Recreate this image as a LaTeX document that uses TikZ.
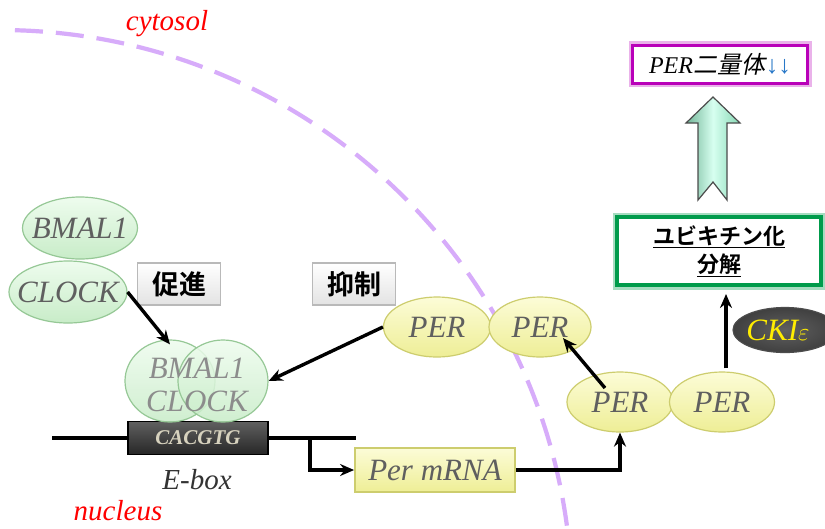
\documentclass[tikz,border=0pt]{standalone}
\usepackage{fontspec}
\setmainfont{Liberation Serif}
\newfontfamily\cjk{Noto Sans CJK JP}[BoldFont=* Bold]
\newfontfamily\cjkslant{Noto Sans CJK JP}[FakeSlant=0.2]
\usetikzlibrary{arrows.meta,shapes.geometric,calc}

\definecolor{membrane}{RGB}{215,172,250}
\definecolor{grnrim}{RGB}{150,200,150}
\definecolor{grnfill}{RGB}{200,236,200}
\definecolor{grnlight}{RGB}{238,252,238}
\definecolor{yelrim}{RGB}{205,205,110}
\definecolor{yelfill}{RGB}{238,238,150}
\definecolor{yellight}{RGB}{252,252,215}
\definecolor{labelgray}{RGB}{95,95,95}
\definecolor{mint}{RGB}{150,240,200}
\definecolor{mintlight}{RGB}{215,255,240}
\definecolor{boxgreen}{RGB}{0,155,75}
\definecolor{boxmag}{RGB}{185,0,185}
\definecolor{arrowblue}{RGB}{40,120,200}

\tikzset{
  protein/.style={ellipse, inner sep=0pt, line width=1.2pt},
  greenprot/.style={protein, draw=grnrim, top color=grnlight, bottom color=grnfill},
  yellowprot/.style={protein, draw=yelrim, top color=yellight, bottom color=yelfill},
  protlabel/.style={font=\fontsize{31}{31}\selectfont\itshape, text=labelgray},
  actbox/.style={rectangle, draw=gray!55, line width=1.5pt, top color=white, bottom color=gray!22,
                 minimum width=83pt, minimum height=42pt, font=\fontsize{27}{27}\selectfont\cjk\bfseries},
  arr/.style={-{Stealth[length=14pt,width=12pt]}, line width=3.4pt},
  redlabel/.style={font=\fontsize{29}{29}\selectfont\itshape, text=red},
}

\begin{document}
\begin{tikzpicture}[x=1pt,y=-1pt]
\useasboundingbox (0,0) rectangle (825,528);
\clip (0,0) rectangle (825,528);
\fill[white] (0,0) rectangle (825,528);

% nuclear envelope
\draw[membrane, line width=4.2pt, dash pattern=on 28pt off 13pt]
  (0,602) ++(-88.5:572) arc[start angle=-88.5, end angle=-4, radius=572];

\node[redlabel] (cyto) at (167,24) {cytosol};
\node[redlabel] (nuc) at (118,511) {nucleus};

% free BMAL1 / CLOCK
\node[greenprot, minimum width=115pt, minimum height=62pt] (bmal) at (80,228) {};
\node[protlabel] at (bmal) {BMAL1};
\node[greenprot, minimum width=118pt, minimum height=62pt] (clock) at (68,292) {};
\node[protlabel] at (clock) {CLOCK};

% activation / repression tags
\node[actbox] (promote) at (179,284) {促進};
\node[actbox] (repress) at (354,284) {抑制};

% DNA with E-box
\coordinate (dnaL) at (52,438);
\coordinate (dnaR) at (356,438);
\coordinate (tss) at (310,438);
\draw[line width=3.2pt] (dnaL) -- (dnaR);
\node[rectangle, draw=black, line width=1.8pt, top color=gray!75!black, bottom color=black!85,
      minimum width=140pt, minimum height=33pt] (ebox) at (198,438) {};
\node[font=\fontsize{21}{21}\selectfont\bfseries\itshape, text={rgb,255:red,215;green,210;blue,190}] at (ebox) {CACGTG};
\node[font=\fontsize{29}{29}\selectfont\itshape, text=black!80] (eboxlab) at (197,480) {E-box};

% BMAL1-CLOCK heterodimer on the E-box
\node[greenprot, fill opacity=0.85, minimum width=90pt, minimum height=82pt] (cxL) at (170,381) {};
\node[greenprot, fill opacity=0.85, minimum width=90pt, minimum height=82pt] (cxR) at (223,381) {};
\node[protlabel, text=gray!90] at (197,368) {BMAL1};
\node[protlabel, text=gray!90] at (197,401) {CLOCK};

% Per mRNA
\node[rectangle, draw=yelrim, line width=1.8pt, top color=yellight, bottom color=yelfill,
      minimum width=160pt, minimum height=44pt] (mrna) at (435,470) {};
\node[protlabel] at (mrna) {Per mRNA};

% PER proteins
\node[yellowprot, minimum width=107pt, minimum height=60pt] (perA) at (437,327) {};
\node[protlabel] at (perA) {PER};
\node[yellowprot, minimum width=102pt, minimum height=60pt] (perB) at (540,327) {};
\node[protlabel] at (perB) {PER};
\node[yellowprot, minimum width=106pt, minimum height=60pt] (perC) at (620,402) {};
\node[protlabel] at (perC) {PER};
\node[yellowprot, minimum width=105pt, minimum height=60pt] (perD) at (722,402) {};
\node[protlabel] at (perD) {PER};

% CKI epsilon
\node[protein, draw=black!70, inner color=gray!75!black, outer color=black!75,
      minimum width=104pt, minimum height=45pt] (cki) at (785,330) {};
\node[protlabel, text=yellow!95!orange] at ($(cki.center)+(-7,0)$) {CKI$\varepsilon$};

% ubiquitination / degradation
\node[rectangle, draw=boxgreen!35, line width=9pt, minimum width=204pt, minimum height=68pt] (ubqglow) at (719,251) {};
\node[rectangle, draw=boxgreen, fill=white, line width=4pt, minimum width=204pt, minimum height=68pt,
      align=center, font=\fontsize{22}{27}\selectfont\cjk\bfseries] (ubq) at (719,251)
      {\underline{ユビキチン化}\\[1pt]\underline{分解}};

% PER dimer decrease
\node[rectangle, draw=boxmag!30, line width=8pt, minimum width=175pt, minimum height=38pt] (dimglow) at (720,64) {};
\node[rectangle, draw=boxmag, fill=white, line width=3pt, minimum width=175pt, minimum height=38pt,
      font=\fontsize{24}{24}\selectfont] (dimer) at (720,64)
      {\textit{PER}\kern1pt{\cjkslant 二量体}{\fontsize{25}{25}\selectfont\color{arrowblue}↓↓}};

% block arrow from degradation to dimer
\coordinate (tip) at (713,97);
\shade[left color=mint!75!black, right color=mint!90!black, middle color=mintlight, draw=black!70, line width=1.2pt]
  (tip) -- (740,123) -- (727,123) -- (727,200) -- (713,182) -- (698,200) -- (698,123) -- (686,123) -- cycle;

% connectors
\draw[arr] (clock.east) -- ($(cxL.north)+(0,5)$);
\draw[arr] (perA.west) -- (cxR.east);
\draw[arr] (tss) |- (mrna.west);
\draw[arr] (mrna.east) -| (perC.south);
\draw[arr] ($(perC.center)+(-15,-14)$) -- ($(perB.center)+(23,11)$);
\coordinate (ckiup) at ($(perD.north)+(4,-3)$);
\draw[arr, shorten >=7pt] (ckiup) -- (ckiup |- ubq.south);
\end{tikzpicture}
\end{document}
